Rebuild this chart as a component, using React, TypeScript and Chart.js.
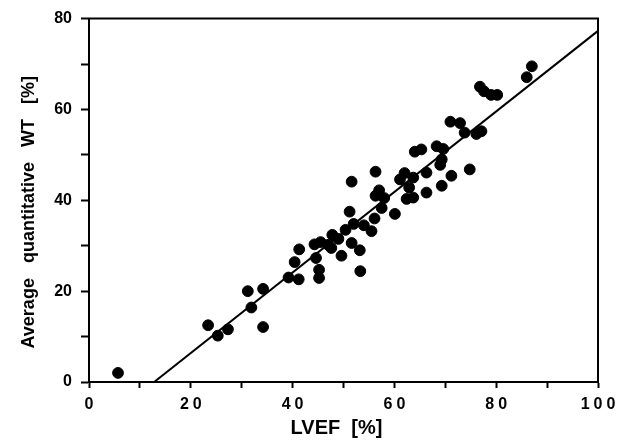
import React, { useEffect, useRef } from 'react';
import { Chart, registerables } from 'chart.js';

Chart.register(...registerables);

// LVEF [%] (x) and average quantitative WT [%] (y) for each patient
const lvef = [5.7, 23.4, 25.3, 27.3, 31.2, 31.9, 34.2, 34.2, 39.2, 40.4, 41.3, 41.2, 44.3, 44.6, 45.2, 45.2, 45.5, 47.0, 47.8, 47.6, 49.6, 49.0, 50.4, 51.2, 51.6, 51.6, 52.0, 53.2, 53.3, 54.0, 55.5, 56.1, 56.3, 56.3, 57.0, 57.5, 58.0, 60.1, 61.1, 62.0, 62.4, 62.9, 63.7, 63.7, 64.0, 65.3, 66.3, 66.3, 68.3, 69.3, 69.0, 69.6, 69.3, 71.0, 71.2, 72.9, 73.8, 74.8, 76.1, 77.1, 76.8, 77.6, 79.0, 80.2, 86.0, 87.0];
const wt = [2.0, 12.5, 10.2, 11.6, 20.0, 16.4, 20.5, 12.1, 23.0, 26.4, 29.2, 22.6, 30.3, 27.3, 24.7, 22.9, 30.8, 30.2, 32.4, 29.5, 27.8, 31.5, 33.5, 37.5, 30.6, 44.1, 34.8, 29.0, 24.4, 34.5, 33.2, 36.0, 46.3, 41.0, 42.2, 38.3, 40.5, 37.0, 44.6, 46.0, 40.3, 42.8, 40.6, 45.0, 50.7, 51.2, 46.1, 41.7, 51.9, 49.0, 47.8, 51.3, 43.2, 57.3, 45.4, 57.0, 54.9, 46.8, 54.6, 55.2, 65.0, 64.0, 63.2, 63.2, 67.1, 69.5];

// Regression line end points
const fitX = [12.8, 100];
const fitY = [0, 77.3];

// Axis tick labels
const xTickLabels = [0, 20, 40, 60, 80, 100];
const yTickLabels = [0, 20, 40, 60, 80];
const xTitle = 'LVEF  [%]';
const yTitle = 'Average   quantitative   WT   [%]';

const FONT = 'Arial, "Liberation Sans", Helvetica, sans-serif';

const framePlugin = {
  id: 'framePlugin',
  afterDraw(chart: any) {
    const { ctx, chartArea, scales } = chart;
    const { left, right, top, bottom } = chartArea;
    ctx.save();
    ctx.strokeStyle = '#000';
    ctx.lineWidth = 2;
    ctx.beginPath();
    ctx.moveTo(left - 1, top);
    ctx.lineTo(right, top);
    ctx.lineTo(right, bottom + 1);
    ctx.stroke();

    ctx.fillStyle = '#000';
    ctx.textAlign = 'center';
    ctx.textBaseline = 'middle';
    ctx.font = `bold 16px ${FONT}`;
    (ctx as any).letterSpacing = '4px';
    xTickLabels.forEach((v) => {
      ctx.fillText(String(v), scales.x.getPixelForValue(v) + 2, bottom + 23);
    });
    (ctx as any).letterSpacing = '0px';

    ctx.font = `bold 20px ${FONT}`;
    ctx.fillText(xTitle, (left + right) / 2 - 7, bottom + 46);

    ctx.translate(29, (top + bottom) / 2 + 12);
    ctx.rotate(-Math.PI / 2);
    ctx.font = `bold 18px ${FONT}`;
    ctx.fillText(yTitle, 0, 0);
    ctx.restore();
  },
};

export default function App() {
  const ref = useRef<HTMLCanvasElement | null>(null);

  useEffect(() => {
    if (!ref.current) return;
    const points = lvef.map((x, i) => ({ x, y: wt[i] }));
    const line = fitX.map((x, i) => ({ x, y: fitY[i] }));
    const chart = new Chart(ref.current, {
      type: 'scatter',
      data: {
        datasets: [
          {
            type: 'line',
            data: line,
            borderColor: '#000',
            borderWidth: 2,
            pointRadius: 0,
            showLine: true,
            fill: false,
          } as any,
          {
            data: points,
            backgroundColor: '#000',
            borderColor: '#000',
            borderWidth: 1,
            pointRadius: 5.4,
          },
        ],
      },
      options: {
        responsive: false,
        animation: false,
        events: [],
        layout: { padding: { left: 0, top: 17, right: 27, bottom: 0 } },
        plugins: {
          legend: { display: false },
          tooltip: { enabled: false },
        },
        scales: {
          x: {
            type: 'linear',
            min: 0,
            max: 100,
            afterFit: (s: any) => {
              s.height = 58;
            },
            ticks: {
              stepSize: 10,
              callback: () => '',
            },
            grid: {
              drawOnChartArea: false,
              drawTicks: true,
              tickLength: 6,
              tickColor: '#000',
              tickWidth: 2,
            },
            border: { display: true, color: '#000', width: 2 },
          },
          y: {
            type: 'linear',
            min: 0,
            max: 80,
            afterFit: (s: any) => {
              s.width = 89;
            },
            ticks: {
              stepSize: 10,
              color: '#000',
              padding: 9,
              font: { family: FONT, size: 16, weight: 'bold' },
              callback: (v: any) => (yTickLabels.includes(Number(v)) ? String(v) : ''),
            },
            grid: {
              drawOnChartArea: false,
              drawTicks: true,
              tickLength: 8,
              tickColor: '#000',
              tickWidth: 2,
            },
            border: { display: true, color: '#000', width: 2 },
          },
        },
      },
      plugins: [framePlugin],
    });
    return () => chart.destroy();
  }, []);

  return (
    <div style={{ position: 'fixed', left: 0, top: 0, width: 625, height: 440, background: '#fff' }}>
      <canvas ref={ref} width={625} height={440} />
    </div>
  );
}
